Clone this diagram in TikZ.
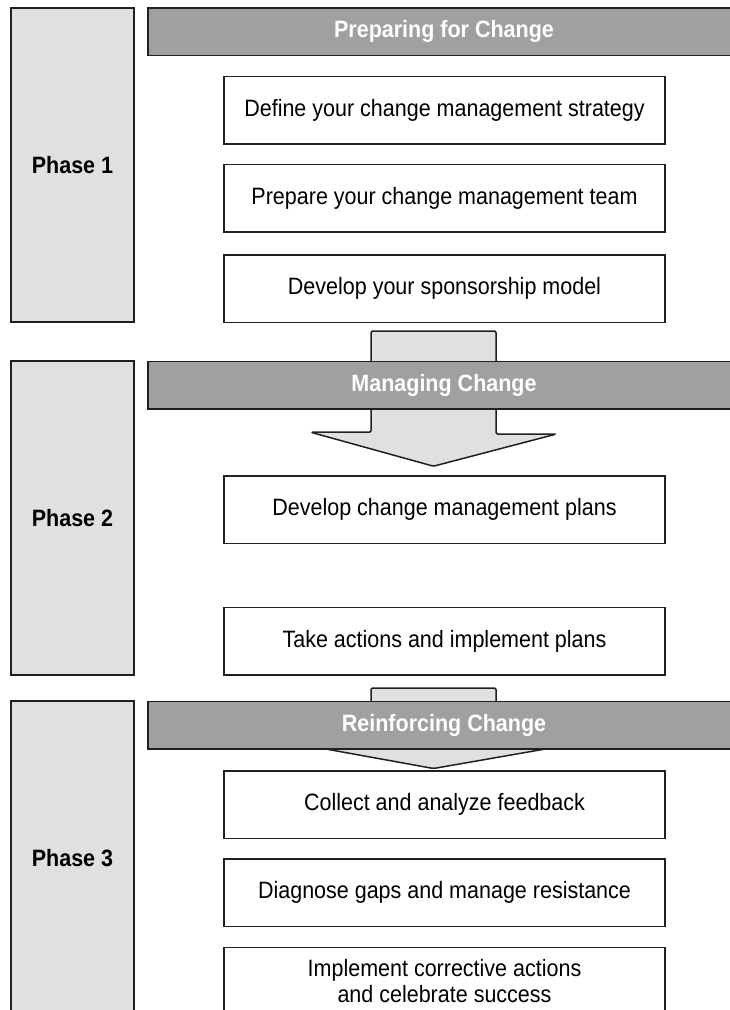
\documentclass[tikz,border=0pt]{standalone}
\usepackage{fontspec}
\usepackage{graphicx}
\setmainfont{Liberation Sans}
\usetikzlibrary{calc}

\definecolor{phasegray}{HTML}{E0E0E0}
\definecolor{headgray}{HTML}{A0A0A0}
\definecolor{linegray}{HTML}{202020}

% slightly tall lettering, as in the original
\newcommand{\tall}[1]{\scalebox{1}[1.1]{#1}}

\begin{document}
\begin{tikzpicture}[x=1pt, y=-1pt, every node/.style={font=\fontsize{21.5}{26.5}\selectfont}]
            \tikzset{
                phase/.style={
                        draw=linegray, fill=phasegray, line width=1.5pt, inner sep=0pt,
                        minimum width=123pt, minimum height=314pt, font=\bfseries\fontsize{21.5}{26.5}\selectfont
                    },
                header/.style={
                        draw=linegray, fill=headgray, line width=1.5pt, inner sep=0pt, text=white,
                        minimum width=592pt, minimum height=47.5pt, font=\bfseries\fontsize{21.5}{26.5}\selectfont
                    },
                stepbox/.style={
                        draw=linegray, fill=white, line width=1.5pt, inner sep=0pt, align=center,
                        minimum width=441pt, minimum height=67.5pt
                    },
                blockarrow/.style={
                        draw=linegray, fill=phasegray, line width=1.5pt, rounded corners=1.5pt, line join=round
                    }
            }

            \useasboundingbox (0,0) rectangle (729,1010);

            % Phase columns
            \node[phase] (p1) at (72.5,165) {\tall{Phase 1}};
            \node[phase] (p2) at (72.5,518) {\tall{Phase 2}};
            \node[phase] (p3) at (72.5,858) {\tall{Phase 3}};

            % Steps
            \node[stepbox] (strategy) at (444.5,110.3) {\tall{Define your change management strategy}};
            \node[stepbox] (team) at (444.5,198.2) {\tall{Prepare your change management team}};
            \node[stepbox] (sponsor) at (444.5,288.5) {\tall{Develop your sponsorship model}};
            \node[stepbox] (plans) at (444.5,509.7) {\tall{Develop change management plans}};
            \node[stepbox] (actions) at (444.5,641) {\tall{Take actions and implement plans}};
            \node[stepbox] (feedback) at (444.5,804.7) {\tall{Collect and analyze feedback}};
            \node[stepbox] (gaps) at (444.5,892.8) {\tall{Diagnose gaps and manage resistance}};
            \node[stepbox] (success) at (444.5,981) {\tall{Implement corrective actions}\\\tall{and celebrate success}};

            % Block arrows between phases
            \coordinate (a1top) at ($(sponsor.south)+(-11,8)$);
            \coordinate (a1tip) at ($(plans.north)+(-11,-9)$);
            \draw[blockarrow] (a1top) ++(-62.5,0) -- ++(125,0) -- ++(0,103) -- ++(60.5,0)
                -- (a1tip) -- ++(-122.9,-34) -- ++(60.4,0) -- cycle;

            \coordinate (a2top) at ($(actions.south)+(-11,12.5)$);
            \coordinate (a2tip) at ($(feedback.north)+(-11,-1.7)$);
            \draw[blockarrow] (a2top) ++(-62.5,0) -- ++(125,0) -- ++(0,60) -- ++(55,0)
                -- (a2tip) -- ++(-117.5,-21.3) -- ++(55,0) -- cycle;

            % Phase headers
            \node[header] (h1) at (444,31.75) {\tall{Preparing for Change}};
            \node[header] (h2) at (444,385.2) {\tall{Managing Change}};
            \node[header] (h3) at (444,725.2) {\tall{Reinforcing Change}};
        \end{tikzpicture}
\end{document}
